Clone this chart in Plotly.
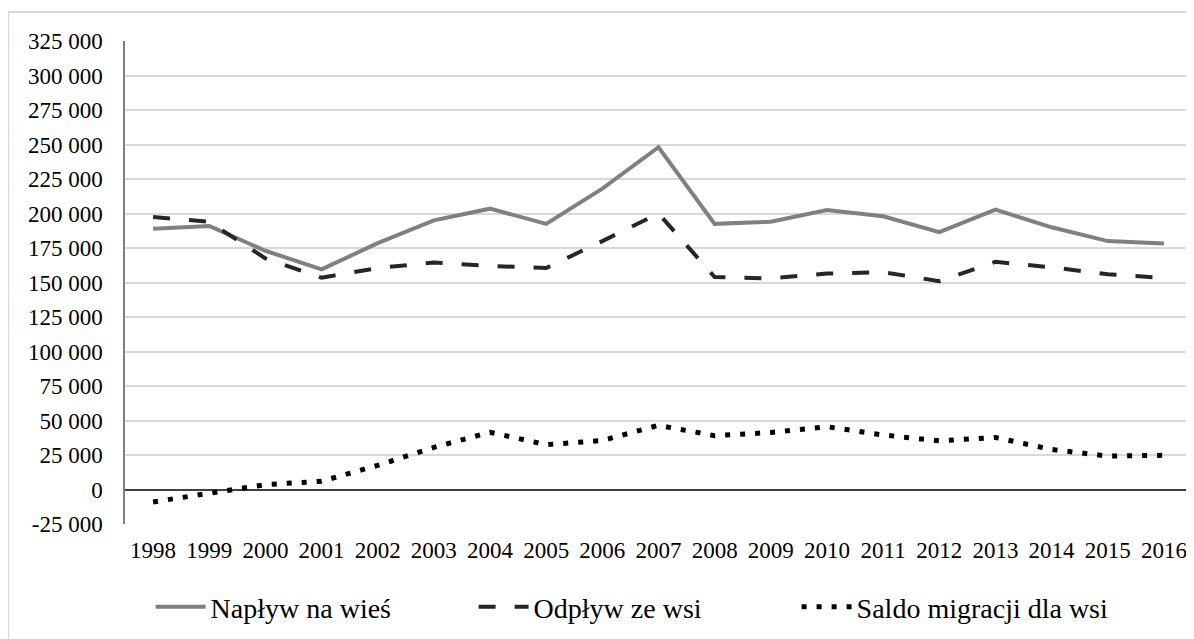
import plotly.graph_objects as go

years = [str(y) for y in range(1998, 2017)]
naplyw = [189000, 191000, 173000, 159500, 178500, 195000, 203500, 192500, 218000, 248000,
          192500, 194000, 202500, 198000, 186500, 202800, 190000, 180000, 178300]
odplyw = [197500, 194000, 167500, 153500, 160500, 164500, 162000, 160500, 180000, 200000,
          154000, 153000, 156500, 157500, 151000, 165000, 161000, 156000, 153300]
saldo = [-9000, -3000, 3500, 6000, 17500, 30500, 41500, 32500, 35500, 46500,
         39000, 41300, 45500, 39500, 35300, 37700, 29000, 24200, 24800]
names = ["Napływ na wieś", "Odpływ ze wsi", "Saldo migracji dla wsi"]
yticks = list(range(-25000, 325001, 25000))


def fmt(v):
    s = f"{abs(v):,}".replace(",", " ")
    return ("-" if v < 0 else "") + s


FONT = "Liberation Serif, Times New Roman, serif"

fig = go.Figure()
fig.add_trace(go.Scatter(x=years, y=naplyw, name=names[0], mode="lines",
                         line=dict(color="#808080", width=4)))
fig.add_trace(go.Scatter(x=years, y=odplyw, name=names[1], mode="lines",
                         line=dict(color="#262626", width=4, dash="17px,19px")))
fig.add_trace(go.Scatter(x=years, y=saldo, name=names[2], mode="lines",
                         line=dict(color="#000000", width=5, dash="5px,10px")))

fig.update_layout(
    width=1186, height=631,
    margin=dict(l=117, r=2, t=33, b=115),
    paper_bgcolor="white", plot_bgcolor="white",
    font=dict(family=FONT, size=23, color="#000000"),
    showlegend=True,
    legend=dict(orientation="h", x=0.024, xanchor="left", y=-0.172, yanchor="middle",
                font=dict(family=FONT, size=28, color="#000000"),
                itemwidth=50, entrywidth=258, entrywidthmode="pixels",
                tracegroupgap=0),
    xaxis=dict(type="category", showgrid=False, showline=False, ticks="",
               tickfont=dict(family=FONT, size=23), range=[-0.5, 18.5],
               ticklabelstandoff=10),
    yaxis=dict(range=[-25000, 325000], tickvals=yticks, ticktext=[fmt(v) for v in yticks],
               showgrid=True, gridcolor="#d9d9d9", gridwidth=1.5,
               zeroline=True, zerolinecolor="#404040", zerolinewidth=1.5,
               showline=True, linecolor="#808080", linewidth=1.5,
               ticks="", tickfont=dict(family=FONT, size=23),
               ticklabelstandoff=16),
    shapes=[dict(type="rect", xref="paper", yref="paper",
                 x0=-0.1095, x1=1.05, y0=-0.3, y1=1.0601,
                 line=dict(color="#d9d9d9", width=2), fillcolor="rgba(0,0,0,0)",
                 layer="below")],
)

fig.write_html("out.html")
